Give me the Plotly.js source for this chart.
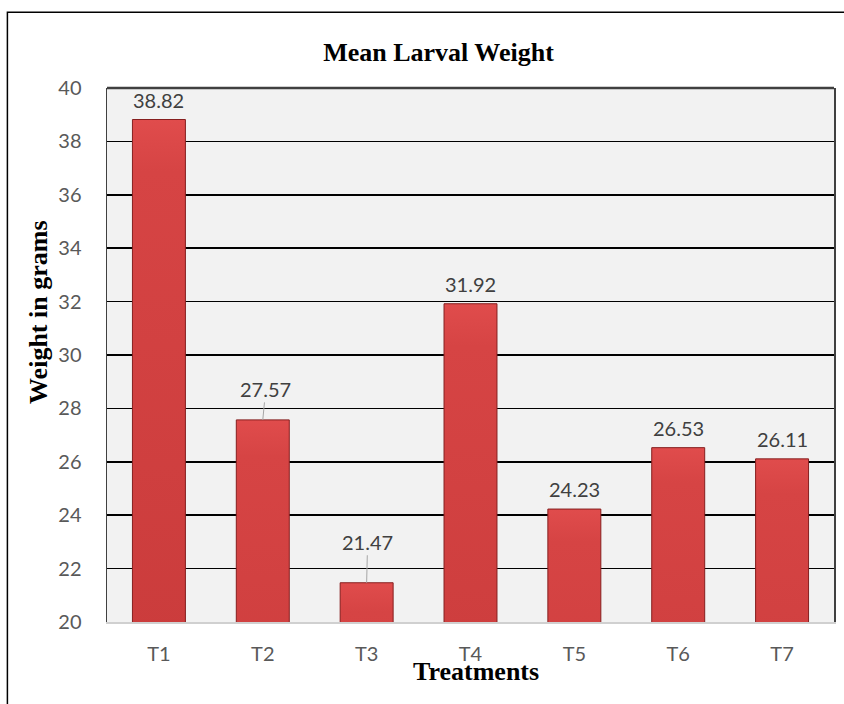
<!DOCTYPE html>
<html>
<head>
<meta charset="utf-8">
<script src="https://cdn.plot.ly/plotly-3.0.1.min.js"></script>
<style>
  html, body { margin: 0; padding: 0; background: #ffffff; }
  #chart { width: 844px; height: 704px; }
</style>
</head>
<body>
<div id="chart"></div>
<script>
// ---- data ----
const categories = ["T1", "T2", "T3", "T4", "T5", "T6", "T7"];
const meanWeight = [38.82, 27.57, 21.47, 31.92, 24.23, 26.53, 26.11];
const valueLabels = ["38.82", "27.57", "21.47", "31.92", "24.23", "26.53", "26.11"];
const yTickValues = [20, 22, 24, 26, 28, 30, 32, 34, 36, 38, 40];

const chartTitle = "Mean Larval Weight";
const xTitle = "Treatments";
const yTitle = "Weight in grams";

// label offsets (pixels) — labels with leader lines for T2 and T3
const labelOffsetX = [0, 3, 1, 0, 0, 0, 0];
const labelOffsetY = [0, -31, -41, 0, 0, 0, 0];
const hasLeader = [false, true, true, false, false, false, false];

const tickFont = { family: "Lato, 'Liberation Sans', sans-serif", size: 20, color: "#595959" };
const labelFont = { family: "Lato, 'Liberation Sans', sans-serif", size: 20, color: "#404040" };
const serifBold = { family: "'Liberation Serif', 'Times New Roman', serif", size: 26, color: "#000000", weight: "bold" };

const trace = {
  type: "bar",
  x: categories,
  y: meanWeight,
  marker: { color: "#cb3c3c", line: { color: "#861f1f", width: 1 } },
  hoverinfo: "x+y",
  showlegend: false
};

const annotations = categories.map((c, i) => {
  if (hasLeader[i]) {
    return {
      x: c, y: meanWeight[i], xref: "x", yref: "y",
      text: valueLabels[i], font: labelFont,
      showarrow: true, arrowhead: 0, arrowwidth: 1, arrowcolor: "#a6a6a6",
      ax: labelOffsetX[i], ay: labelOffsetY[i], standoff: 0
    };
  }
  return {
    x: c, y: meanWeight[i], xref: "x", yref: "y",
    text: valueLabels[i], font: labelFont,
    showarrow: false, yanchor: "bottom", yshift: 6
  };
});

annotations.push({
  text: xTitle, font: serifBold, showarrow: false,
  xref: "paper", yref: "paper", x: 0.5076, y: -0.092,
  xanchor: "center", yanchor: "middle"
});
annotations.push({
  text: yTitle, font: serifBold, showarrow: false, textangle: -90,
  xref: "paper", yref: "paper", x: -0.094, y: 0.58,
  xanchor: "center", yanchor: "middle"
});

const layout = {
  width: 844, height: 704,
  margin: { l: 107, r: 10, t: 88, b: 82 },
  paper_bgcolor: "#ffffff",
  plot_bgcolor: "#f2f2f2",
  bargap: 0.49,
  title: {
    text: chartTitle, font: serifBold,
    xref: "paper", x: 0.456, xanchor: "center",
    yref: "container", y: 1 - 52 / 704, yanchor: "middle"
  },
  xaxis: {
    type: "category",
    showgrid: false, zeroline: false,
    showline: true, linecolor: "#d0d0d0", linewidth: 2,
    ticks: "", ticklabelstandoff: 13,
    tickfont: tickFont
  },
  yaxis: {
    range: [20, 40],
    tickvals: yTickValues,
    showgrid: true, gridcolor: "#000000", gridwidth: 1.5,
    zeroline: false,
    showline: true, linecolor: "#404040", linewidth: 1.5, mirror: true,
    ticks: "", ticklabelstandoff: 20,
    tickfont: tickFont
  },
  shapes: [
    { type: "line", xref: "paper", yref: "paper", x0: 0, x1: 1, y0: 1, y1: 1,
      line: { color: "#404040", width: 2.5 } },
    { type: "rect", xref: "paper", yref: "paper",
      x0: -0.137, x1: 1.05, y0: -0.2, y1: 1.142,
      line: { color: "#000000", width: 1.5 }, fillcolor: "rgba(0,0,0,0)", layer: "below" }
  ],
  annotations: annotations
};

Plotly.newPlot("chart", [trace], layout, { displayModeBar: false, staticPlot: true }).then(() => {
  const svg = document.querySelector("#chart .main-svg");
  const ns = "http://www.w3.org/2000/svg";
  let defs = svg.querySelector("defs");
  if (!defs) { defs = document.createElementNS(ns, "defs"); svg.insertBefore(defs, svg.firstChild); }
  const grad = document.createElementNS(ns, "linearGradient");
  grad.setAttribute("id", "barGradV");
  grad.setAttribute("x1", "0"); grad.setAttribute("y1", "0");
  grad.setAttribute("x2", "0"); grad.setAttribute("y2", "1");
  [["0", "#e04c4c"], ["0.05", "#d64444"], ["0.5", "#cb3c3c"], ["1", "#a42e2e"]].forEach(([o, c]) => {
    const s = document.createElementNS(ns, "stop");
    s.setAttribute("offset", o); s.setAttribute("stop-color", c);
    grad.appendChild(s);
  });
  defs.appendChild(grad);
  document.querySelectorAll("#chart .bars .point path").forEach(p => {
    p.style.fill = "url(#barGradV)";
  });
});
</script>
</body>
</html>
